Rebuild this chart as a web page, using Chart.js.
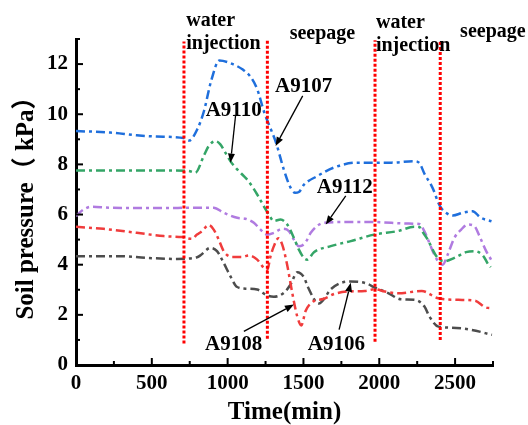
<!DOCTYPE html>
<html>
<head>
<meta charset="utf-8">
<script src="https://cdn.jsdelivr.net/npm/chart.js@4.4.0/dist/chart.umd.min.js"></script>
<style>
  html, body { margin: 0; padding: 0; background: #fff; }
  #wrap { width: 528px; height: 425px; }
</style>
</head>
<body>
<div id="wrap"><canvas id="soilChart" width="528" height="425"></canvas></div>
<script>
  // soil pressure readings (kPa) against time (min), one pair of arrays per gauge
  const a9107Time = [0, 225, 400, 530, 710, 745, 800, 845, 890, 945, 1040, 1100, 1150, 1195, 1240, 1285, 1320, 1370, 1415, 1445, 1470, 1505, 1590, 1700, 1850, 2080, 2230, 2265, 2300, 2340, 2365, 2385, 2407, 2440, 2485, 2550, 2615, 2670, 2740];
  const a9107Kpa = [9.33, 9.27, 9.16, 9.11, 9.05, 8.95, 9.4, 10.15, 11.3, 12.14, 11.98, 11.78, 11.5, 11.0, 10.1, 9.4, 8.85, 7.8, 7.07, 6.87, 6.9, 7.2, 7.53, 7.87, 8.07, 8.07, 8.13, 8.05, 7.6, 7.2, 6.87, 6.53, 6.27, 6.07, 5.96, 6.07, 6.13, 5.87, 5.73];

  const a9110Time = [0, 300, 600, 740, 787, 842, 875, 919, 952, 985, 1018, 1063, 1107, 1135, 1195, 1239, 1272, 1305, 1349, 1393, 1437, 1470, 1503, 1525, 1569, 1680, 1812, 1966, 2121, 2231, 2264, 2290, 2320, 2352, 2385, 2429, 2495, 2572, 2627, 2683, 2720, 2735];
  const a9110Kpa = [7.76, 7.76, 7.76, 7.74, 7.67, 8.33, 8.73, 8.93, 8.8, 8.47, 8.13, 7.8, 7.53, 7.35, 6.8, 6.33, 6.0, 5.74, 5.8, 5.6, 5.07, 4.6, 4.27, 4.2, 4.5, 4.74, 4.94, 5.2, 5.34, 5.51, 5.5, 5.27, 5.0, 4.6, 4.27, 4.14, 4.27, 4.5, 4.54, 4.37, 4.0, 3.9];

  const a9112Time = [0, 50, 100, 225, 580, 775, 908, 974, 1063, 1118, 1173, 1217, 1261, 1305, 1360, 1404, 1437, 1470, 1490, 1525, 1548, 1636, 1790, 1966, 2187, 2264, 2297, 2330, 2363, 2396, 2418, 2451, 2495, 2540, 2583, 2627, 2661, 2705, 2738];
  const a9112Kpa = [5.94, 6.2, 6.31, 6.27, 6.26, 6.27, 6.27, 6.07, 5.87, 5.83, 5.67, 5.4, 5.2, 5.27, 5.43, 5.34, 5.0, 4.74, 4.76, 5.0, 5.27, 5.67, 5.7, 5.7, 5.64, 5.62, 5.34, 4.87, 4.4, 4.07, 4.0, 4.4, 5.07, 5.4, 5.6, 5.54, 5.14, 4.54, 4.2];

  const a9108Time = [0, 181, 401, 578, 700, 765, 798, 831, 875, 908, 941, 974, 1030, 1096, 1140, 1195, 1239, 1261, 1283, 1305, 1335, 1360, 1390, 1426, 1459, 1486, 1514, 1563, 1629, 1706, 1794, 1905, 1971, 2037, 2125, 2280, 2390, 2522, 2632, 2700, 2745];
  const a9108Kpa = [5.51, 5.43, 5.27, 5.14, 5.1, 5.03, 5.2, 5.34, 5.58, 5.4, 5.0, 4.54, 4.31, 4.31, 4.37, 4.2, 3.87, 3.78, 4.34, 4.74, 5.05, 4.8, 4.07, 2.88, 1.94, 1.58, 2.15, 2.53, 2.63, 2.84, 2.93, 2.95, 3.02, 2.93, 2.86, 2.95, 2.66, 2.6, 2.56, 2.3, 2.26];

  const a9106Time = [0, 291, 467, 666, 798, 820, 886, 930, 974, 1018, 1063, 1129, 1195, 1261, 1305, 1371, 1415, 1459, 1503, 1530, 1600, 1684, 1746, 1810, 1905, 1978, 2055, 2143, 2231, 2297, 2330, 2390, 2478, 2610, 2743];
  const a9106Kpa = [4.34, 4.34, 4.27, 4.23, 4.3, 4.37, 4.67, 4.54, 4.07, 3.54, 3.11, 3.04, 3.01, 2.77, 2.72, 2.88, 3.21, 3.7, 3.5, 3.1, 2.45, 3.04, 3.27, 3.33, 3.27, 3.07, 2.88, 2.62, 2.6, 2.34, 1.94, 1.53, 1.49, 1.4, 1.2];

  // tick labels
  const timeTicks = [0, 500, 1000, 1500, 2000, 2500];
  const kpaTicks = [0, 2, 4, 6, 8, 10, 12];

  // stage boundaries (min) and the span of each dotted marker (kPa)
  const stageBounds = [712, 1262, 1972, 2402];
  const stageLow = [0.86, 1.05, 0.93, 1.0];
  const stageHigh = [12.9, 13.0, 12.95, 12.95];

  const seriesNames = ["A9107", "A9110", "A9112", "A9108", "A9106"];
  const seriesColors = ["#1f6fdc", "#34a567", "#b07be0", "#f03c3c", "#4d4d4d"];
  const seriesTimes = [a9107Time, a9110Time, a9112Time, a9108Time, a9106Time];
  const seriesKpa = [a9107Kpa, a9110Kpa, a9112Kpa, a9108Kpa, a9106Kpa];

  const serif = "'Times New Roman', 'Liberation Serif', 'Noto Sans CJK SC', serif";

  // annotation text: [label, time, kPa baseline]
  const gaugeTags = [
    ["A9107", 1501, 10.88],
    ["A9110", 1040, 9.93],
    ["A9112", 1773, 6.87],
    ["A9108", 1040, 0.6],
    ["A9106", 1717, 0.6]
  ];
  // arrows: [fromT, fromKpa, toT, toKpa]
  const gaugeArrows = [
    [1495, 10.73, 1316, 8.73],
    [1052, 9.93, 1019, 8.07],
    [1779, 6.74, 1647, 5.6],
    [1107, 1.34, 1437, 2.41],
    [1735, 1.41, 1812, 3.28]
  ];
  const stageText = [
    ["water", 727, 13.51],
    ["injection", 727, 12.6],
    ["seepage", 1409, 13.0],
    ["water", 1978, 13.43],
    ["injection", 1978, 12.52],
    ["seepage", 2533, 13.08]
  ];

  const datasets = [];
  stageBounds.forEach((b, i) => {
    datasets.push({
      data: [{ x: b, y: stageLow[i] }, { x: b, y: stageHigh[i] }],
      borderColor: "#ff0000",
      borderWidth: 3,
      borderDash: [3, 2],
      pointRadius: 0,
      tension: 0,
      order: 0
    });
  });
  seriesNames.forEach((name, i) => {
    datasets.push({
      label: name,
      data: seriesTimes[i].map((t, k) => ({ x: t, y: seriesKpa[i][k] })),
      borderColor: seriesColors[i],
      borderWidth: 2.5,
      borderDash: [9, 4, 3, 4],
      pointRadius: 0,
      cubicInterpolationMode: "monotone",
      order: 1
    });
  });

  const decor = {
    id: "decor",
    afterDraw(chart) {
      const { ctx, chartArea, scales: { x, y } } = chart;
      ctx.save();
      ctx.strokeStyle = "#000";
      ctx.lineWidth = 2;
      for (let v = 0; v <= 13; v++) {
        const py = y.getPixelForValue(v);
        const len = v % 2 === 0 ? 7 : 4;
        ctx.beginPath();
        ctx.moveTo(chartArea.left, py);
        ctx.lineTo(chartArea.left + len, py);
        ctx.stroke();
      }
      for (let t = 0; t <= 2750; t += 250) {
        const px = x.getPixelForValue(t);
        const len = t % 500 === 0 ? 7 : 4;
        ctx.beginPath();
        ctx.moveTo(px, chartArea.bottom);
        ctx.lineTo(px, chartArea.bottom - len);
        ctx.stroke();
      }

      // arrows
      ctx.lineWidth = 1.3;
      ctx.fillStyle = "#000";
      gaugeArrows.forEach(a => {
        const x1 = x.getPixelForValue(a[0]), y1 = y.getPixelForValue(a[1]);
        const x2 = x.getPixelForValue(a[2]), y2 = y.getPixelForValue(a[3]);
        const ang = Math.atan2(y2 - y1, x2 - x1);
        const hl = 9, hw = 3.5;
        const bx = x2 - hl * Math.cos(ang), by = y2 - hl * Math.sin(ang);
        ctx.beginPath();
        ctx.moveTo(x1, y1);
        ctx.lineTo(bx, by);
        ctx.stroke();
        ctx.beginPath();
        ctx.moveTo(x2, y2);
        ctx.lineTo(bx + hw * Math.sin(ang), by - hw * Math.cos(ang));
        ctx.lineTo(bx - hw * Math.sin(ang), by + hw * Math.cos(ang));
        ctx.closePath();
        ctx.fill();
      });

      ctx.textBaseline = "alphabetic";
      ctx.font = "bold 21px " + serif;
      ctx.textAlign = "center";
      gaugeTags.forEach(g => {
        ctx.fillText(g[0], x.getPixelForValue(g[1]), y.getPixelForValue(g[2]));
      });

      ctx.font = "bold 20px " + serif;
      ctx.textAlign = "left";
      stageText.forEach(s => {
        ctx.fillText(s[0], x.getPixelForValue(s[1]), y.getPixelForValue(s[2]));
      });
      ctx.restore();
    }
  };

  new Chart(document.getElementById("soilChart").getContext("2d"), {
    type: "line",
    data: { datasets },
    plugins: [decor],
    options: {
      responsive: false,
      animation: false,
      layout: { padding: { top: 39, right: 35, left: 0, bottom: 0 } },
      plugins: { legend: { display: false }, tooltip: { enabled: false } },
      scales: {
        x: {
          type: "linear",
          min: 0,
          max: 2750,
          afterFit: s => { s.height = 60; },
          afterBuildTicks: s => { s.ticks = timeTicks.map(v => ({ value: v })); },
          grid: { display: false, drawTicks: false },
          border: { display: true, color: "#000", width: 3 },
          ticks: {
            autoSkip: false,
            maxRotation: 0,
            padding: 6,
            color: "#000",
            callback: v => String(v),
            font: { family: serif, size: 21, weight: "bold" }
          },
          title: {
            display: true,
            text: "Time(min)",
            color: "#000",
            font: { family: serif, size: 25, weight: "bold", lineHeight: 1 },
            padding: { top: 0, bottom: 0 }
          }
        },
        y: {
          min: 0,
          max: 13,
          afterFit: s => { s.width = 76; },
          afterBuildTicks: s => { s.ticks = kpaTicks.map(v => ({ value: v })); },
          grid: { display: false, drawTicks: false },
          border: { display: true, color: "#000", width: 3 },
          ticks: {
            autoSkip: false,
            padding: 8,
            color: "#000",
            callback: v => String(v),
            font: { family: serif, size: 21, weight: "bold" }
          },
          title: {
            display: true,
            text: "Soil pressure（ kPa）",
            color: "#000",
            font: { family: serif, size: 25, weight: "bold", lineHeight: 1 },
            padding: { top: 14, bottom: 0 }
          }
        }
      }
    }
  });
</script>
</body>
</html>
